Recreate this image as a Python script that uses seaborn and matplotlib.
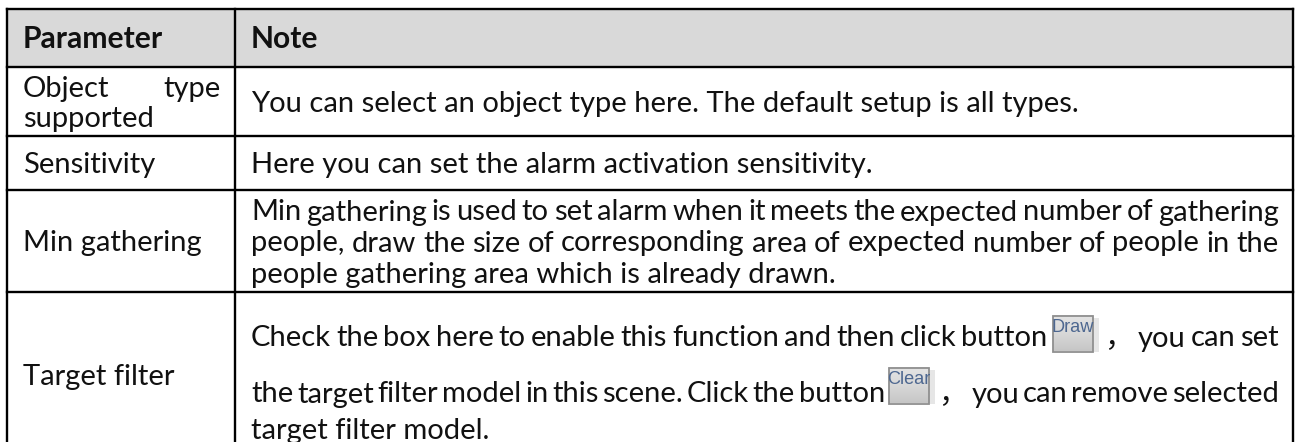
import numpy as np
import matplotlib
matplotlib.use("Agg")
import matplotlib.pyplot as plt
import seaborn as sns
from matplotlib.patches import Rectangle

# table content
headers = ["Parameter", "Note"]
param_lines = [
    ["Object type", "supported"],
    ["Sensitivity"],
    ["Min gathering"],
    ["Target filter"],
]
note_lines = [
    ["You can select an object type here. The default setup is all types."],
    ["Here you can set the alarm activation sensitivity."],
    ["Min gathering is used to set alarm when it meets the expected number of gathering",
     "people, draw the size of corresponding area of expected number of people in the",
     "people gathering area which is already drawn."],
    ["Check the box here to enable this function and then click button [Draw] ， you can set",
     "the target filter model in this scene. Click the button [Clear] ， you can remove selected",
     "target filter model."],
]

# layout (pixels)
W, H = 1297, 442
x_left, x_mid, x_right = 7, 235, 1293
row_edges = [9, 67, 136, 190, 292, 452]
pad_l, pad_r = 16, 14
header_center = 38
param_centers = [[86, 117], [163], [241], [374]]
note_centers = [[101.5], [163], [210, 241, 272], [336, 392, 428]]
btn_w, btn_h = 40, 36
btn_drop = [5, 1]   # bottom of button below baseline

sns.set_theme(style="white")
plt.rcParams["font.family"] = ["Lato", "Noto Sans CJK SC", "DejaVu Sans"]

fig = plt.figure(figsize=(W / 100, H / 100), dpi=100)
ax = fig.add_axes([0, 0, 1, 1])
ax.set_xlim(0, W)
ax.set_ylim(H, 0)
ax.axis("off")
renderer = fig.canvas.get_renderer()


def text_width(t):
    return t.get_window_extent(renderer).width


# fit font size to the long sentence width in the reference
probe = ax.text(0, 0, note_lines[0][0], fontsize=17)
fs = float(np.clip(17 * 862 / text_width(probe), 13, 21))
probe.remove()
fs_px = fs * 100 / 72
cap_half = 0.36 * fs_px

# header background and grid
ax.add_patch(Rectangle((x_left, row_edges[0]), x_right - x_left, row_edges[1] - row_edges[0],
                       facecolor="#d9d9d9", edgecolor="none", zorder=0))
lw = 1.7
for y in row_edges:
    ax.plot([x_left, x_right], [y, y], color="black", lw=lw, solid_capstyle="projecting", zorder=3)
for x in (x_left, x_mid, x_right):
    ax.plot([x, x], [row_edges[0], H + 20], color="black", lw=lw, solid_capstyle="projecting", zorder=3)

grad = np.linspace(0, 1, 40).reshape(-1, 1)
btn_cmap = sns.blend_palette(["#e4e4e4", "#d8d8d8", "#c6c6c6"], as_cmap=True)
btn_count = [0]


def draw_button(x, base, label):
    k = btn_count[0]
    btn_count[0] += 1
    bottom = base + btn_drop[k % 2]
    top = bottom - btn_h
    ax.imshow(grad, cmap=btn_cmap, extent=(x, x + btn_w, bottom, top), aspect="auto", zorder=2)
    ax.add_patch(Rectangle((x + btn_w, top + 2), 6, btn_h - 2, facecolor="#e6e6e6",
                           edgecolor="none", zorder=2))
    ax.add_patch(Rectangle((x, top), btn_w, btn_h, facecolor="none",
                           edgecolor="#8f8f8f", lw=1.3, zorder=2.5))
    ax.text(x + btn_w / 2, top + btn_h * 0.32, label, fontsize=fs * 0.62, color="#4d6790",
            family=["Liberation Sans", "DejaVu Sans"], ha="center", va="center", zorder=3)


def draw_line(x0, x1, center, line, justify, weight="normal"):
    base = center + cap_half
    if not justify:
        ax.text(x0, base, line, fontsize=fs, fontweight=weight, color="#111111",
                va="baseline", ha="left")
        return
    items = []
    for tok in line.split(" "):
        if tok.startswith("["):
            items.append(("btn", tok[1:-1], btn_w + 6))
        else:
            t = ax.text(0, base, tok, fontsize=fs, fontweight=weight, color="#111111",
                        va="baseline", ha="left")
            items.append(("txt", t, text_width(t)))
    gap = (x1 - x0 - sum(w for _, _, w in items)) / max(len(items) - 1, 1)
    x = x0
    for kind, obj, w in items:
        if kind == "btn":
            draw_button(x, base, obj)
        else:
            obj.set_x(x)
        x += w + gap


# header
ax.text(x_left + pad_l, header_center + cap_half, headers[0], fontsize=fs * 1.03, fontweight="bold",
        va="baseline", color="#111111")
ax.text(x_mid + pad_l, header_center + cap_half, headers[1], fontsize=fs * 1.03, fontweight="bold",
        va="baseline", color="#111111")

# body
for lines, centers in zip(param_lines, param_centers):
    for i, (ln, c) in enumerate(zip(lines, centers)):
        draw_line(x_left + pad_l, x_mid - pad_r, c, ln, i < len(lines) - 1)
for lines, centers in zip(note_lines, note_centers):
    for i, (ln, c) in enumerate(zip(lines, centers)):
        draw_line(x_mid + pad_l, x_right - pad_r, c, ln, i < len(lines) - 1)

fig.savefig("out.png", dpi=100)
